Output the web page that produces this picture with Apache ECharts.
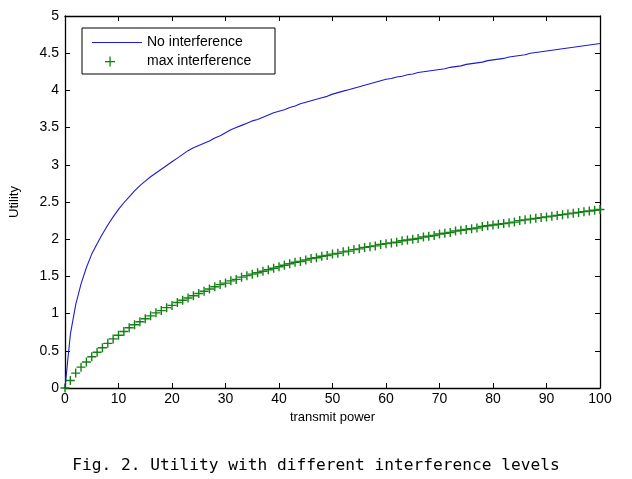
<!DOCTYPE html>
<html>
<head>
<meta charset="utf-8">
<script src="https://cdn.jsdelivr.net/npm/echarts@6/dist/echarts.min.js"></script>
<style>
html,body{margin:0;padding:0;background:#fff;}
#chart{width:632px;height:479px;}
</style>
</head>
<body>
<div id="chart"></div>
<script>
// transmit power (x) values 0..100
var xValues = [];
for (var i = 0; i <= 100; i++) xValues.push(i);

var noInterference = [
0,0.72,1.12,1.40,1.62,1.80,1.94,2.07,2.19,2.30,
2.40,2.49,2.57,2.65,2.72,2.78,2.84,2.89,2.94,2.99,
3.04,3.09,3.14,3.19,3.23,3.26,3.29,3.32,3.36,3.39,
3.43,3.47,3.50,3.53,3.56,3.59,3.61,3.64,3.67,3.70,
3.72,3.74,3.77,3.79,3.82,3.84,3.86,3.88,3.90,3.92,
3.95,3.97,3.99,4.01,4.03,4.05,4.07,4.09,4.11,4.13,
4.15,4.16,4.18,4.19,4.21,4.22,4.24,4.25,4.26,4.27,
4.28,4.29,4.31,4.32,4.33,4.35,4.36,4.37,4.38,4.40,
4.41,4.42,4.43,4.45,4.46,4.47,4.48,4.50,4.51,4.52,
4.53,4.54,4.55,4.56,4.57,4.58,4.59,4.60,4.61,4.62,
4.63];

var maxInterference = [
0,0.10,0.20,0.28,0.35,0.42,0.48,0.54,0.60,0.66,
0.71,0.76,0.81,0.85,0.89,0.93,0.97,1.01,1.04,1.08,
1.11,1.15,1.18,1.21,1.24,1.27,1.30,1.33,1.36,1.39,
1.41,1.44,1.46,1.49,1.51,1.53,1.55,1.57,1.59,1.61,
1.63,1.65,1.67,1.69,1.70,1.72,1.74,1.75,1.77,1.78,
1.80,1.81,1.83,1.84,1.86,1.87,1.89,1.90,1.91,1.93,
1.94,1.95,1.96,1.98,1.99,2.00,2.01,2.03,2.04,2.05,
2.07,2.08,2.09,2.11,2.12,2.13,2.14,2.15,2.17,2.18,
2.19,2.20,2.21,2.22,2.23,2.25,2.26,2.27,2.28,2.29,
2.30,2.31,2.32,2.33,2.34,2.35,2.36,2.37,2.38,2.39,
2.40];

var seriesNames = ['No interference', 'max interference'];
var xTicks = [0,10,20,30,40,50,60,70,80,90,100];
var yTicks = [0,0.5,1,1.5,2,2.5,3,3.5,4,4.5,5];
var xLabel = 'transmit power';
var yLabel = 'Utility';
var caption = 'Fig. 2. Utility with different interference levels';

var FONT = 'Liberation Sans, Arial, sans-serif';
var PLUS = 'path://M38,0H52V38H90V52H52V90H38V52H0V38H38Z';
var BLUE = '#1c1cd0';
var GREEN = '#128012';

function pairs(ys) { return xValues.map(function (x, i) { return [x, ys[i]]; }); }

function axisBase() {
  return {
    axisLine: { show: true, onZero: false, lineStyle: { color: '#000', width: 1.3 } },
    axisTick: { show: true, inside: true, length: 5, lineStyle: { color: '#000' } },
    splitLine: { show: false },
    axisLabel: { color: '#000', fontFamily: FONT, fontSize: 14 }
  };
}
function merge(a, b) { for (var k in b) a[k] = b[k]; return a; }

var chart = echarts.init(document.getElementById('chart'), null, { renderer: 'canvas' });
chart.setOption({
  animation: false,
  backgroundColor: '#fff',
  title: {
    text: caption, left: 'center', top: 453,
    textStyle: { fontFamily: 'DejaVu Sans Mono, monospace', fontSize: 16.2, fontWeight: 'normal', color: '#000' }
  },
  grid: { left: 63, right: 32, top: 16, bottom: 91 },
  xAxis: [
    merge(axisBase(), {
      type: 'value', min: xTicks[0], max: xTicks[xTicks.length - 1], interval: 10, position: 'bottom',
      name: xLabel, nameLocation: 'middle', nameGap: 22,
      nameTextStyle: { fontFamily: FONT, fontSize: 13, color: '#000' },
      axisLabel: { color: '#000', fontFamily: FONT, fontSize: 14, margin: 4 }
    }),
    merge(axisBase(), {
      type: 'value', min: xTicks[0], max: xTicks[xTicks.length - 1], interval: 10, position: 'top',
      axisLabel: { show: false }
    })
  ],
  yAxis: [
    merge(axisBase(), {
      type: 'value', min: yTicks[0], max: yTicks[yTicks.length - 1], interval: 0.5, position: 'left',
      name: yLabel, nameLocation: 'middle', nameGap: 44,
      nameTextStyle: { fontFamily: FONT, fontSize: 13, color: '#000' },
      axisLabel: { color: '#000', fontFamily: FONT, fontSize: 14, margin: 6 }
    }),
    merge(axisBase(), {
      type: 'value', min: yTicks[0], max: yTicks[yTicks.length - 1], interval: 0.5, position: 'right',
      axisLabel: { show: false }
    })
  ],
  series: [
    {
      name: seriesNames[0], type: 'line', data: pairs(noInterference),
      showSymbol: false, symbol: 'none',
      lineStyle: { color: BLUE, width: 1.1 }, itemStyle: { color: BLUE }
    },
    {
      name: seriesNames[1], type: 'scatter', data: pairs(maxInterference),
      symbol: PLUS, symbolSize: 9,
      itemStyle: { color: GREEN, opacity: 1 }
    }
  ],
  graphic: {
    elements: [
      { type: 'rect', x: 82, y: 28, z: 100, shape: { x: 0, y: 0, width: 193, height: 46 },
        style: { fill: '#fff', stroke: '#000', lineWidth: 1 } },
      { type: 'line', z: 101, shape: { x1: 92, y1: 42.5, x2: 142, y2: 42.5 },
        style: { stroke: BLUE, lineWidth: 1.1 } },
      { type: 'text', x: 147, y: 35, z: 101,
        style: { text: seriesNames[0], fill: '#000', font: '14px ' + FONT } },
      { type: 'rect', z: 101, shape: { x: 105, y: 61, width: 10, height: 1.3 }, style: { fill: GREEN } },
      { type: 'rect', z: 101, shape: { x: 109.4, y: 56.5, width: 1.3, height: 10 }, style: { fill: GREEN } },
      { type: 'text', x: 147, y: 54, z: 101,
        style: { text: seriesNames[1], fill: '#000', font: '14px ' + FONT } }
    ]
  }
});
</script>
</body>
</html>
